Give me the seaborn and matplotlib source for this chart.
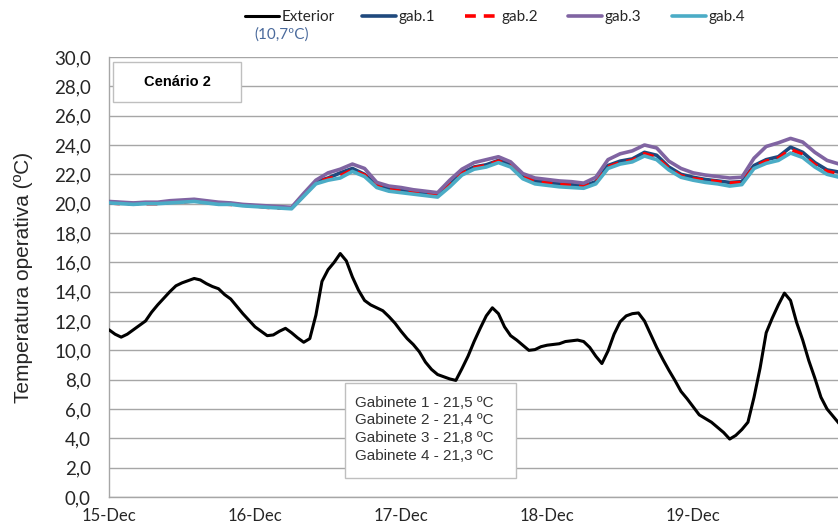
import matplotlib
matplotlib.use("Agg")
import matplotlib.pyplot as plt
import matplotlib.patches as mpatches
import seaborn as sns
import pandas as pd

# ---------------- data ----------------
ext_hours = list(range(0, 121))
exterior = [11.4, 11.1, 10.9, 11.1, 11.4, 11.7, 12.0, 12.6, 13.1, 13.55,
            14.0, 14.4, 14.6, 14.75, 14.9, 14.8, 14.55, 14.35, 14.2, 13.8,
            13.5, 13.0, 12.5, 12.05, 11.6, 11.3, 11.0, 11.05, 11.3, 11.5,
            11.2, 10.85, 10.55, 10.8, 12.4, 14.7, 15.5, 16.0, 16.6, 16.1,
            15.0, 14.1, 13.4, 13.1, 12.9, 12.7, 12.3, 11.85, 11.3, 10.8,
            10.4, 9.9, 9.2, 8.7, 8.35, 8.2, 8.05, 7.95, 8.75, 9.6,
            10.6, 11.5, 12.35, 12.9, 12.5, 11.6, 11.0, 10.7, 10.35, 10.0,
            10.05, 10.25, 10.35, 10.4, 10.45, 10.6, 10.65, 10.7, 10.6, 10.2,
            9.6, 9.1, 9.95, 11.1, 11.95, 12.35, 12.5, 12.55, 12.0, 11.1,
            10.2, 9.4, 8.65, 7.95, 7.2, 6.7, 6.15, 5.6, 5.35, 5.1,
            4.75, 4.4, 3.95, 4.2, 4.6, 5.1, 6.8, 8.8, 11.2, 12.2,
            13.1, 13.9, 13.4, 11.9, 10.7, 9.3, 8.1, 6.8, 6.0, 5.5,
            5.0]

gab_hours = list(range(0, 121, 2))
gab1 = [20.1, 20.05, 20.0, 20.05, 20.05, 20.1, 20.15, 20.2, 20.1, 20.0,
        20.0, 19.9, 19.85, 19.8, 19.75, 19.7, 20.6, 21.5, 21.75, 22.1,
        22.4, 22.0, 21.25, 21.0, 20.9, 20.8, 20.7, 20.6, 21.3, 22.1,
        22.5, 22.65, 22.95, 22.7, 21.9, 21.55, 21.45, 21.35, 21.3, 21.2,
        21.5, 22.6, 22.9, 23.05, 23.5, 23.3, 22.5, 22.0, 21.8, 21.65,
        21.55, 21.45, 21.5, 22.6, 23.0, 23.2, 23.85, 23.5, 22.8, 22.3,
        22.15]
gab2 = [20.05, 20.0, 20.0, 20.0, 20.0, 20.1, 20.1, 20.2, 20.1, 20.0,
        19.95, 19.9, 19.85, 19.75, 19.7, 19.7, 20.55, 21.45, 21.7, 21.9,
        22.3, 21.95, 21.2, 20.95, 20.85, 20.75, 20.65, 20.55, 21.25, 22.05,
        22.45, 22.6, 22.9, 22.6, 21.85, 21.5, 21.4, 21.3, 21.25, 21.15,
        21.45, 22.5, 22.8, 22.95, 23.4, 23.15, 22.4, 21.9, 21.7, 21.6,
        21.5, 21.4, 21.45, 22.5, 22.9, 23.1, 23.7, 23.35, 22.65, 22.2,
        22.0]
gab3 = [20.15, 20.1, 20.05, 20.1, 20.1, 20.2, 20.25, 20.3, 20.2, 20.1,
        20.05, 19.95, 19.9, 19.85, 19.8, 19.75, 20.7, 21.6, 22.1, 22.35,
        22.7, 22.4, 21.45, 21.2, 21.1, 20.95, 20.85, 20.75, 21.6, 22.35,
        22.8, 23.0, 23.2, 22.85, 22.05, 21.75, 21.65, 21.55, 21.5, 21.4,
        21.8, 23.0, 23.4, 23.6, 24.0, 23.8, 22.9, 22.4, 22.1, 21.95,
        21.85, 21.75, 21.8, 23.1, 23.9, 24.15, 24.45, 24.2, 23.5, 22.95,
        22.7]
gab4 = [20.05, 20.0, 19.95, 20.0, 20.0, 20.05, 20.1, 20.15, 20.05, 19.95,
        19.95, 19.85, 19.8, 19.75, 19.7, 19.65, 20.5, 21.35, 21.6, 21.75,
        22.2, 21.85, 21.1, 20.85, 20.75, 20.65, 20.55, 20.45, 21.15, 21.95,
        22.35, 22.5, 22.8, 22.5, 21.7, 21.35, 21.25, 21.15, 21.1, 21.05,
        21.35, 22.4, 22.7, 22.85, 23.25, 23.0, 22.3, 21.8, 21.6, 21.45,
        21.35, 21.2, 21.3, 22.4, 22.75, 22.95, 23.45, 23.15, 22.5, 22.0,
        21.8]

series_names = ["Exterior", "gab.1", "gab.2", "gab.3", "gab.4"]
day_ticks = [0, 24, 48, 72, 96]
day_labels = ["15-Dec", "16-Dec", "17-Dec", "18-Dec", "19-Dec"]
y_ticks = [0, 2, 4, 6, 8, 10, 12, 14, 16, 18, 20, 22, 24, 26, 28, 30]
y_labels = ["0,0", "2,0", "4,0", "6,0", "8,0", "10,0", "12,0", "14,0", "16,0",
            "18,0", "20,0", "22,0", "24,0", "26,0", "28,0", "30,0"]
avg_lines = ["Gabinete 1 - 21,5 ºC", "Gabinete 2 - 21,4 ºC",
             "Gabinete 3 - 21,8 ºC", "Gabinete 4 - 21,3 ºC"]

frames = [pd.DataFrame({"hour": ext_hours, "temp": exterior, "series": "Exterior"})]
for name, vals in zip(series_names[1:], [gab1, gab2, gab3, gab4]):
    frames.append(pd.DataFrame({"hour": gab_hours, "temp": vals, "series": name}))
df = pd.concat(frames, ignore_index=True)

# ---------------- style ----------------
sns.set_style("white")
plt.rcParams["font.family"] = ["Lato", "DejaVu Sans"]

colors = {"Exterior": "#000000", "gab.1": "#1f497d", "gab.2": "#ff0000",
          "gab.3": "#8064a2", "gab.4": "#4bacc6"}
widths = {"Exterior": 2.2, "gab.1": 2.6, "gab.2": 2.6, "gab.3": 2.6, "gab.4": 2.6}

fig = plt.figure(figsize=(8.38, 5.26), dpi=100)
ax = fig.add_axes([109 / 838, 29 / 526, 729 / 838, 440 / 526])

for i, name in enumerate(series_names):
    sub = df[df["series"] == name]
    sns.lineplot(data=sub, x="hour", y="temp", ax=ax, color=colors[name],
                 linewidth=widths[name], label=name, zorder=3 + i,
                 estimator=None, sort=True)
    if name == "gab.2":
        ax.lines[-1].set_dashes([3, 2.2])

ax.set_xlim(0, 119.8)
ax.set_ylim(0, 30)
ax.set_yticks(y_ticks)
ax.set_yticklabels(y_labels, fontsize=13.5, color="#262626")
ax.set_xticks(day_ticks)
ax.set_xticklabels(day_labels, fontsize=12, color="#262626")
ax.set_xlabel("")
ax.set_ylabel("Temperatura operativa (ºC)", fontsize=15, color="#262626",
              family=["Liberation Sans", "DejaVu Sans"], labelpad=15)

ax.grid(axis="y", color="#a6a6a6", linewidth=1.0)
ax.grid(axis="x", visible=False)
for s in ["top", "right"]:
    ax.spines[s].set_visible(False)
for s in ["left", "bottom"]:
    ax.spines[s].set_color("#a6a6a6")
    ax.spines[s].set_linewidth(1.0)
ax.tick_params(axis="y", direction="out", length=5, width=1.0,
               color="#a6a6a6", pad=8)
ax.tick_params(axis="x", direction="out", length=5, width=1.0,
               color="#a6a6a6", pad=3)

# legend at top: one entry per slot, equally spaced like the original
handles, labels = ax.get_legend_handles_labels()
if ax.legend_:
    ax.legend_.remove()
slot_x = [245, 362, 465, 568, 672]
for h, l, x in zip(handles, labels, slot_x):
    lg = fig.legend([h], [l], loc="center left",
                    bbox_to_anchor=(x / 838, 1 - 17 / 526), frameon=False,
                    fontsize=11, handlelength=2.2, handletextpad=0.2,
                    borderpad=0, borderaxespad=0)
    for t in lg.get_texts():
        t.set_color("#262626")
fig.text(282 / 838, 1 - 35 / 526, "(10,7ºC)", fontsize=11, color="#4a6a9c",
         ha="center", va="center")

# scenario box
fig.patches.append(mpatches.Rectangle((113 / 838, 1 - 102 / 526), 128 / 838, 40 / 526,
                                      transform=fig.transFigure, facecolor="white",
                                      edgecolor="#bfbfbf", linewidth=1.0, zorder=10))
fig.text(177 / 838, 1 - 82 / 526, "Cenário 2", fontsize=10.5, fontweight="bold",
         family=["Liberation Sans", "DejaVu Sans"], color="#000000",
         ha="center", va="center", zorder=11)

# averages box
fig.patches.append(mpatches.Rectangle((345 / 838, 1 - 478 / 526), 171 / 838, 95 / 526,
                                      transform=fig.transFigure, facecolor="white",
                                      edgecolor="#bfbfbf", linewidth=1.0, zorder=10))
for k, line in enumerate(avg_lines):
    fig.text(355 / 838, 1 - (403 + 17.5 * k) / 526, line, fontsize=11,
             family=["Liberation Sans", "DejaVu Sans"], color="#333333",
             ha="left", va="center", zorder=11)

fig.savefig("out.png", dpi=100)
